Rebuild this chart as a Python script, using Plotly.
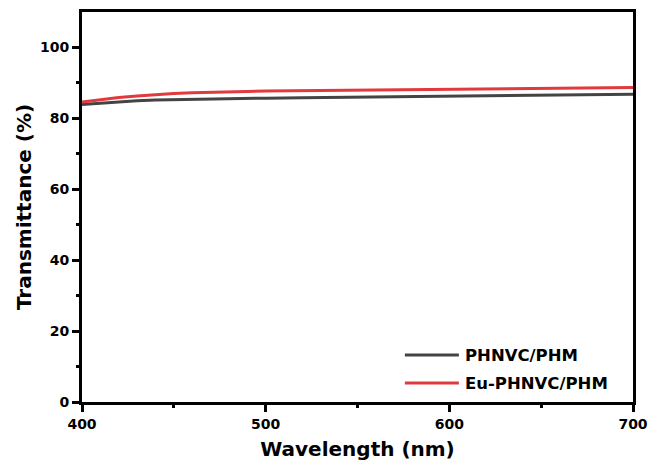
import plotly.graph_objects as go

wl_red = [400, 410, 420, 430, 440, 450, 460, 470, 480, 490, 500, 520, 540, 560, 580, 600, 620, 640, 660, 680, 700]
t_red = [84.6, 85.3, 85.9, 86.3, 86.7, 87.0, 87.2, 87.4, 87.5, 87.6, 87.7, 87.8, 88.0, 88.1, 88.2, 88.3, 88.4, 88.4, 88.6, 88.6, 88.7]
wl_blk = [400, 410, 420, 430, 440, 450, 460, 480, 500, 520, 540, 560, 580, 600, 620, 640, 660, 680, 700]
t_blk = [83.9, 84.3, 84.7, 85.0, 85.2, 85.3, 85.4, 85.6, 85.7, 85.8, 85.9, 86.0, 86.1, 86.3, 86.4, 86.5, 86.6, 86.7, 86.8]
names = ["PHNVC/PHM", "Eu-PHNVC/PHM"]
colors = ["#444444", "#e0393e"]

fig = go.Figure()
fig.add_trace(go.Scatter(x=wl_blk, y=t_blk, mode="lines", name=names[0],
                         line=dict(color=colors[0], width=3)))
fig.add_trace(go.Scatter(x=wl_red, y=t_red, mode="lines", name=names[1],
                         line=dict(color=colors[1], width=3)))

FAM = "DejaVu Sans, Arial, sans-serif"
fig.update_layout(
    width=652, height=466,
    margin=dict(l=82, r=19, t=12, b=64),
    plot_bgcolor="white", paper_bgcolor="white",
    font=dict(family=FAM, color="black"),
    showlegend=False,
)

# custom legend (long sample lines)
leg_y = [0.1205, 0.0487]
for name, col, yy in zip(names, colors, leg_y):
    fig.add_shape(type="line", xref="paper", yref="paper", x0=0.586, x1=0.684, y0=yy, y1=yy,
                  line=dict(color=col, width=3))
    fig.add_annotation(xref="paper", yref="paper", x=0.692, y=yy, text=name, showarrow=False,
                       xanchor="left", yanchor="middle",
                       font=dict(family=FAM, size=16.5, weight="bold", color="black"))

fig.update_xaxes(range=[400, 700], tickvals=[400, 500, 600, 700], automargin=False,
                 showline=True, linecolor="black", linewidth=3, mirror=True,
                 ticks="outside", ticklen=7, tickwidth=2.5, tickcolor="black",
                 minor=dict(tickvals=[450, 550, 650], ticklen=3, tickwidth=2.5, tickcolor="black", ticks="outside"),
                 showgrid=False, zeroline=False,
                 tickfont=dict(size=14, weight="bold"),
                 title=dict(text="Wavelength (nm)", font=dict(size=20, weight="bold"), standoff=12))
fig.update_yaxes(range=[0, 110], tickvals=[0, 20, 40, 60, 80, 100], automargin=False,
                 showline=True, linecolor="black", linewidth=3, mirror=True,
                 ticks="outside", ticklen=7, tickwidth=2.5, tickcolor="black",
                 minor=dict(tickvals=[10, 30, 50, 70, 90], ticklen=3, tickwidth=2.5, tickcolor="black", ticks="outside"),
                 showgrid=False, zeroline=False,
                 tickfont=dict(size=14, weight="bold"),
                 title=dict(text="Transmittance (%)", font=dict(size=20, weight="bold"), standoff=3))

fig.write_html("out.html")
